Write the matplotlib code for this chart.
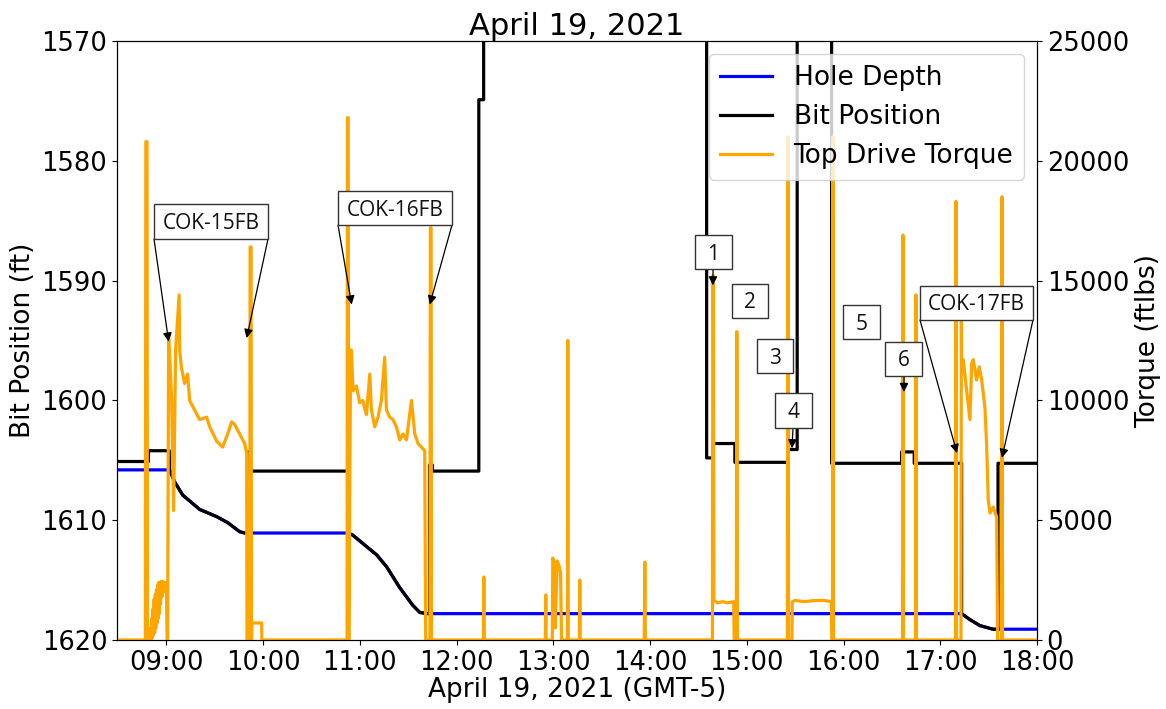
import matplotlib
matplotlib.use("Agg")
import matplotlib.pyplot as plt
from matplotlib.patches import Rectangle
from matplotlib.ticker import FuncFormatter

# ---- data (time in decimal hours, local GMT-5) ----
# Drilling intervals: hole depth and bit position coincide while on bottom
drill1_time = [9.034, 9.086, 9.169, 9.344, 9.520, 9.634, 9.758, 9.810]
drill1_depth = [1605.8, 1606.8, 1607.9, 1609.1, 1609.7, 1610.2, 1610.96, 1611.07]
drill2_time = [10.877, 10.925, 11.070, 11.175, 11.278, 11.410, 11.547, 11.620, 11.700]
drill2_depth = [1611.07, 1611.23, 1612.2, 1612.9, 1613.9, 1615.6, 1617.1, 1617.7, 1617.8]
drill3_time = [17.221, 17.307, 17.410, 17.545]
drill3_depth = [1617.8, 1618.3, 1618.8, 1619.1]

hole_time = [8.49] + drill1_time + drill2_time + drill3_time + [18.0]
hole_depth = [1605.8] + drill1_depth + drill2_depth + drill3_depth + [1619.1]

bit_time = ([8.49, 8.815, 8.815, 9.030] + drill1_time +
            [9.844, 9.844, 9.860, 9.860, 10.877] + drill2_time +
            [11.720, 11.720, 11.750, 11.750, 12.230, 12.230, 12.280, 12.280,
             14.585, 14.585, 14.652, 14.652, 14.877, 14.877, 15.430, 15.430,
             15.521, 15.521, 15.877, 15.877, 16.600, 16.600, 16.731, 16.731,
             17.221] + drill3_time +
            [17.597, 17.597, 18.0])
bit_depth = ([1605.1, 1605.1, 1604.2, 1604.2] + drill1_depth +
             [1611.07, 1604.3, 1604.3, 1605.9, 1605.9] + drill2_depth +
             [1617.8, 1605.4, 1605.4, 1605.9, 1605.9, 1574.9, 1574.9, 1560.0,
              1560.0, 1604.8, 1604.8, 1603.6, 1603.6, 1605.17, 1605.17, 1604.1,
              1604.1, 1560.0, 1560.0, 1605.25, 1605.25, 1604.3, 1604.3, 1605.25,
              1605.25] + drill3_depth +
             [1619.1, 1605.25, 1605.25])

torque_time = [
    8.490, 8.783, 8.788, 8.800, 8.805,
    8.830, 8.838, 8.843, 8.850, 8.855, 8.862, 8.867, 8.874, 8.879, 8.886,
    8.891, 8.898, 8.903, 8.910, 8.915, 8.922, 8.928, 8.935, 8.940, 8.948,
    8.955, 8.962, 8.970, 8.980, 8.990, 9.000, 9.008,
    9.013, 9.024, 9.055, 9.075, 9.096, 9.132, 9.138, 9.155, 9.189, 9.220,
    9.241, 9.293, 9.344, 9.417, 9.448, 9.520, 9.582, 9.634, 9.675, 9.706,
    9.758, 9.810, 9.830, 9.834,
    9.862, 9.866, 9.876, 9.880, 9.885, 9.985, 9.988,
    10.868, 10.872, 10.880, 10.886, 10.905,
    10.913, 10.930, 10.965, 10.999, 11.030, 11.068, 11.103, 11.120, 11.154,
    11.188, 11.223, 11.257, 11.275, 11.309, 11.343, 11.378, 11.413, 11.447,
    11.482, 11.534, 11.568, 11.602, 11.637, 11.671, 11.681,
    11.725, 11.729, 11.737, 11.741,
    12.278, 12.282, 12.286,
    12.918, 12.922, 12.926,
    12.990, 12.995, 13.010, 13.020, 13.040, 13.060, 13.075, 13.085,
    13.146, 13.150, 13.154,
    13.270, 13.274, 13.278,
    13.940, 13.946, 13.952,
    14.645, 14.649, 14.655, 14.660, 14.700, 14.750, 14.800, 14.865, 14.870,
    14.892, 14.897, 14.903,
    15.420, 15.425, 15.431, 15.467, 15.470, 15.500, 15.600, 15.700, 15.800,
    15.875, 15.880,
    15.886, 15.890, 15.896,
    16.610, 16.614, 16.620,
    16.744, 16.748, 16.754,
    17.158, 17.162, 17.168,
    17.214, 17.218, 17.221, 17.238, 17.273, 17.307, 17.325, 17.341, 17.376,
    17.403, 17.428, 17.462, 17.480, 17.496, 17.514, 17.548, 17.566, 17.583,
    17.593,
    17.634, 17.638, 17.644,
    18.000,
]
torque_value = [
    0, 0, 20800, 20800, 0,
    0, 500, 0, 900, 100, 1300, 200, 1700, 300, 1900,
    500, 2100, 700, 2300, 900, 2400, 1100, 2400, 1500, 2450,
    1800, 2450, 2000, 2400, 2200, 2400, 0,
    0, 12800, 10000, 5400, 12100, 14400, 12100, 11400, 10700, 11100,
    10000, 9600, 9200, 9300, 8900, 8300, 8050, 8600, 9100, 9000,
    8600, 8200, 7800, 0,
    0, 16400, 16400, 0, 710, 710, 0,
    0, 21800, 21800, 0, 12100,
    12100, 10400, 10600, 9900, 10000, 9400, 11100, 9600, 8900,
    9300, 10000, 11800, 9600, 9300, 9200, 8900, 8350, 8600,
    8350, 10000, 8600, 8200, 8050, 7900, 0,
    0, 17200, 17200, 0,
    0, 2630, 0,
    0, 1880, 0,
    0, 3420, 3200, 500, 3300, 3100, 2800, 0,
    0, 12500, 0,
    0, 2500, 0,
    0, 3250, 0,
    0, 15200, 15200, 1650, 1550, 1600, 1550, 1600, 0,
    0, 12870, 0,
    0, 21000, 0, 0, 1600, 1650, 1600, 1650, 1650,
    1600, 0,
    0, 21000, 0,
    0, 16900, 0,
    0, 14400, 0,
    0, 18300, 0,
    0, 13600, 11100, 11700, 10400, 9200, 11550, 11700, 10850,
    11400, 10850, 9700, 8050, 5850, 5300, 5550, 5300, 5150,
    0,
    0, 18500, 0,
    0,
]

hour_ticks = list(range(9, 19))
depth_ticks = [1570, 1580, 1590, 1600, 1610, 1620]
torque_ticks = [0, 5000, 10000, 15000, 20000, 25000]

# ---- figure ----
W, H = 1166, 709
fig = plt.figure(figsize=(W / 100, H / 100), dpi=100)
ax1 = fig.add_axes([117 / W, 1 - 640 / H, (1037 - 117) / W, (640 - 41) / H])
ax2 = ax1.twinx()

l1, = ax1.plot(hole_time, hole_depth, color="blue", lw=2.3, label="Hole Depth")
l2, = ax1.plot(bit_time, bit_depth, color="black", lw=2.3, label="Bit Position")
l3, = ax2.plot(torque_time, torque_value, color="orange", lw=2.3,
               label="Top Drive Torque")

ax1.set_xlim(8.49, 18.0)
ax1.set_ylim(1620, 1570)
ax2.set_ylim(0, 25000)
ax1.set_xticks(hour_ticks)
ax1.xaxis.set_major_formatter(FuncFormatter(lambda h, _: f"{int(round(h)):02d}:00"))
ax1.set_yticks(depth_ticks)
ax2.set_yticks(torque_ticks)

ax1.tick_params(labelsize=18.5)
ax2.tick_params(labelsize=18.5)
ax1.set_xlabel("April 19, 2021 (GMT-5)", fontsize=19, labelpad=1)
ax1.set_ylabel("Bit Position (ft)", fontsize=19)
ax2.set_ylabel("Torque (ftlbs)", fontsize=19)
ax1.set_title("April 19, 2021", fontsize=22, pad=2)

ax2.legend([l1, l2, l3], [l.get_label() for l in (l1, l2, l3)],
           loc="upper right", fontsize=19)

# ---- callout boxes with arrows ----
def fig_xy(x, y):
    return x / W, 1 - y / H

def callout(text, box, tips=(), corners=()):
    x0, y0, x1, y1 = box
    fig.add_artist(Rectangle(fig_xy(x0, y1), (x1 - x0) / W, (y1 - y0) / H,
                             transform=fig.transFigure, facecolor="white",
                             edgecolor="#333333", lw=1.0, zorder=3))
    fig.text(*fig_xy((x0 + x1) / 2, (y0 + y1) / 2 + 7.5), text,
             ha="center", va="baseline", fontsize=15, family="Open Sans",
             color="#111111", zorder=4)
    for tip, corner in zip(tips, corners):
        ax2.annotate("", xy=tip, xycoords=ax1.transData,
                     xytext=fig_xy(*corner), textcoords="figure fraction",
                     arrowprops=dict(arrowstyle="-|>", color="black", lw=0.9,
                                     mutation_scale=13, shrinkA=0, shrinkB=0),
                     annotation_clip=False)

callout("COK-15FB", (154, 204, 268, 239),
        tips=[(9.024, 1595.1), (9.830, 1594.8)],
        corners=[(154, 239), (268, 239)])
callout("COK-16FB", (338, 191, 452, 225),
        tips=[(10.916, 1592.0), (11.723, 1592.0)],
        corners=[(338, 225), (452, 225)])
callout("COK-17FB", (920, 286, 1033, 320),
        tips=[(17.173, 1604.4), (17.638, 1604.8)],
        corners=[(920, 320), (1033, 320)])
callout("1", (695, 235, 732, 269), tips=[(14.650, 1590.4)], corners=[(713, 269)])
callout("2", (732, 284, 768, 318))
callout("3", (757, 339, 793, 373))
callout("4", (775, 393, 812, 428), tips=[(15.467, 1604.0)], corners=[(793, 428)])
callout("5", (843, 305, 880, 339))
callout("6", (885, 342, 922, 376), tips=[(16.625, 1599.3)], corners=[(904, 376)])

fig.savefig("out.png", dpi=100)
